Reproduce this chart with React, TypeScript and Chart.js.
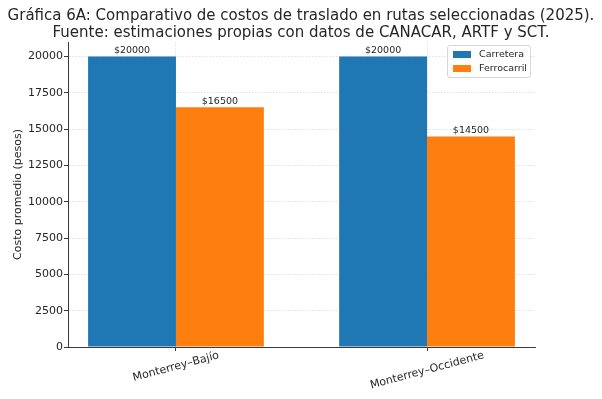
import React, { useEffect, useRef } from 'react';
import { Chart, registerables } from 'chart.js';

Chart.register(...registerables);

const categories = ['Monterrey–Bajío', 'Monterrey–Occidente'];
const seriesNames = ['Carretera', 'Ferrocarril'];
const carretera = [20000, 20000];
const ferrocarril = [16500, 14500];
const yTicks = [0, 2500, 5000, 7500, 10000, 12500, 15000, 17500, 20000];
const titleLines = [
  'Gráfica 6A: Comparativo de costos de traslado en rutas seleccionadas (2025).',
  'Fuente: estimaciones propias con datos de CANACAR, ARTF y SCT.',
];
const yTitle = 'Costo promedio (pesos)';

const COLORS = ['#1f77b4', '#ff7f0e'];
const FONT = "'DejaVu Sans', sans-serif";
const TEXT = '#262626';
const GRID = 'rgba(0,0,0,0.15)';
const SPINE = '#3a3a3a';

const titlePlugin = {
  id: 'titleLines',
  afterDraw(chart: any) {
    const ctx = chart.ctx;
    ctx.save();
    ctx.fillStyle = TEXT;
    ctx.font = `15px ${FONT}`;
    ctx.textAlign = 'center';
    ctx.textBaseline = 'alphabetic';
    ctx.fillText(titleLines[0], 301, 20);
    ctx.fillText(titleLines[1], 301, 37);
    ctx.restore();
  },
};

const xLabelPlugin = {
  id: 'xLabels',
  afterDraw(chart: any) {
    const ctx = chart.ctx;
    const xs = chart.scales.x;
    const ang = (15 * Math.PI) / 180;
    ctx.save();
    ctx.fillStyle = TEXT;
    ctx.font = `11px ${FONT}`;
    ctx.textAlign = 'center';
    ctx.textBaseline = 'middle';
    categories.forEach((label, i) => {
      const cx = xs.getPixelForValue(i);
      const L = ctx.measureText(label).width;
      const h = 11;
      const bboxH = L * Math.sin(ang) + h * Math.cos(ang);
      const cy = chart.chartArea.bottom + 3 + bboxH / 2;
      ctx.save();
      ctx.translate(cx, cy);
      ctx.rotate(-ang);
      ctx.fillText(label, 0, 0);
      ctx.restore();
    });
    ctx.restore();
  },
};

const valueLabelPlugin = {
  id: 'valueLabels',
  afterDatasetsDraw(chart: any) {
    const ctx = chart.ctx;
    ctx.save();
    ctx.fillStyle = TEXT;
    ctx.font = `9.5px ${FONT}`;
    ctx.textAlign = 'center';
    ctx.textBaseline = 'bottom';
    chart.data.datasets.forEach((ds: any, d: number) => {
      const meta = chart.getDatasetMeta(d);
      meta.data.forEach((bar: any, i: number) => {
        ctx.fillText('$' + ds.data[i].y, bar.x, bar.y - 1);
      });
    });
    ctx.restore();
  },
};

const legendPlugin = {
  id: 'boxLegend',
  afterDraw(chart: any) {
    const ctx = chart.ctx;
    const x = 447, y = 45, w = 83, h = 32;
    ctx.save();
    ctx.fillStyle = 'rgba(255,255,255,0.85)';
    ctx.strokeStyle = '#d6d6d6';
    ctx.lineWidth = 1;
    ctx.beginPath();
    (ctx as any).roundRect(x + 0.5, y + 0.5, w, h, 2.5);
    ctx.fill();
    ctx.stroke();
    ctx.font = `9.5px ${FONT}`;
    ctx.textBaseline = 'middle';
    ctx.textAlign = 'left';
    seriesNames.forEach((name, i) => {
      const cy = y + 9.5 + i * 14;
      ctx.fillStyle = COLORS[i];
      ctx.fillRect(x + 6, cy - 3.5, 18, 7);
      ctx.fillStyle = TEXT;
      ctx.fillText(name, x + 32, cy + 0.5);
    });
    ctx.restore();
  },
};

export default function App() {
  const ref = useRef<HTMLCanvasElement>(null);
  useEffect(() => {
    if (!ref.current) return;
    const chart = new Chart(ref.current, {
      type: 'bar',
      data: {
        datasets: [
          {
            label: seriesNames[0],
            data: carretera.map((v, i) => ({ x: i, y: v })),
            backgroundColor: COLORS[0],
            borderWidth: 0,
          },
          {
            label: seriesNames[1],
            data: ferrocarril.map((v, i) => ({ x: i, y: v })),
            backgroundColor: COLORS[1],
            borderWidth: 0,
          },
        ],
      },
      options: {
        responsive: false,
        animation: false,
        events: [],
        categoryPercentage: 0.7,
        barPercentage: 1.0,
        layout: { padding: { left: 0, right: 67, top: 42, bottom: 0 } },
        plugins: {
          legend: { display: false },
          title: { display: false },
          tooltip: { enabled: false },
        },
        scales: {
          x: {
            type: 'linear',
            min: -0.43,
            max: 1.43,
            offset: false,
            afterBuildTicks(scale: any) {
              scale.ticks = categories.map((_, i) => ({ value: i }));
            },
            afterFit(scale: any) {
              scale.height = 52;
            },
            ticks: { display: false },
            grid: {
              offset: false,
              color: GRID,
              lineWidth: 0.8,
              drawTicks: true,
              tickLength: 4,
              tickColor: SPINE,
              tickWidth: 1,
            },
            border: { display: true, color: SPINE, width: 1, dash: [1.5, 1.5] },
          },
          y: {
            type: 'linear',
            min: 0,
            max: 21000,
            afterBuildTicks(scale: any) {
              scale.ticks = yTicks.map((v) => ({ value: v }));
            },
            afterFit(scale: any) {
              scale.width = 68;
            },
            ticks: {
              color: TEXT,
              font: { family: FONT, size: 11 },
              padding: 1,
              callback: (v: any) => String(v),
            },
            grid: {
              color: GRID,
              lineWidth: 0.8,
              drawTicks: true,
              tickLength: 4,
              tickColor: SPINE,
              tickWidth: 1,
            },
            border: { display: true, color: SPINE, width: 1, dash: [1.5, 1.5] },
            title: {
              display: true,
              text: yTitle,
              color: TEXT,
              font: { family: FONT, size: 11 },
              padding: { top: 12, bottom: 0 },
            },
          },
        },
      },
      plugins: [titlePlugin, xLabelPlugin, valueLabelPlugin, legendPlugin],
    } as any);
    return () => chart.destroy();
  }, []);
  return (
    <div style={{ position: 'absolute', left: 0, top: 0, width: 602, height: 399, background: '#fff' }}>
      <canvas ref={ref} width={602} height={399} style={{ display: 'block' }} />
    </div>
  );
}
